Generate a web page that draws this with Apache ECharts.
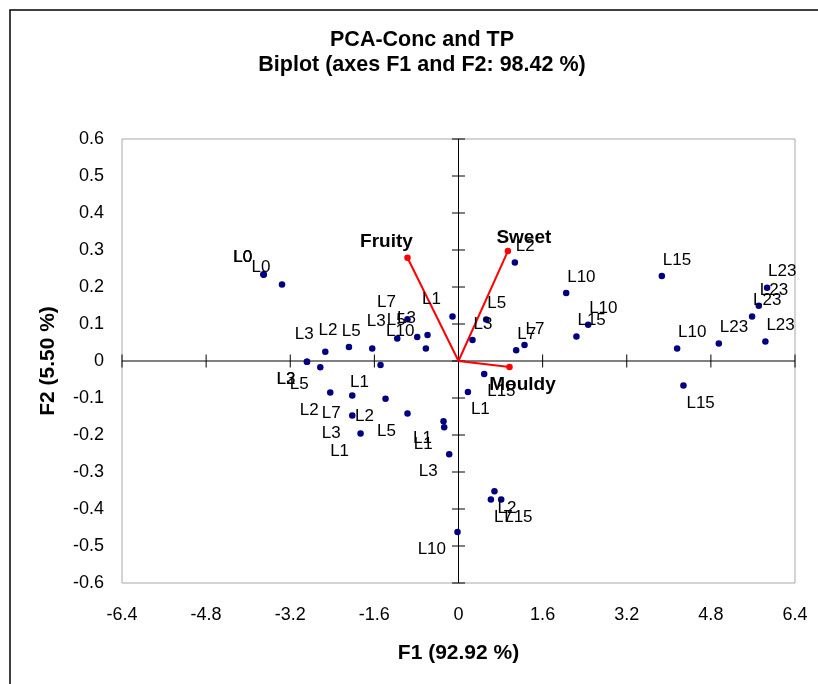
<!DOCTYPE html>
<html>
<head>
<meta charset="utf-8">
<title>PCA-Conc and TP</title>
<script src="https://cdn.jsdelivr.net/npm/echarts@6/dist/echarts.min.js"></script>
<style>
  html, body { margin: 0; padding: 0; background: #fff; }
  #chart { width: 818px; height: 684px; }
</style>
</head>
<body>
<div id="chart"></div>
<script>
// Observation scores on the first two principal axes
const obsNames = [
  'L0', 'L0', 'L0', 'L0', 'L1', 'L7', 'L3', 'L5', 'L3', 'L10', 'L5', 'L2', 'L3',
  'L2', 'L3', 'L5', 'L1', 'L2', 'L7', 'L2', 'L3', 'L5', 'L1', 'L1', 'L1', 'L3',
  'L1', 'L15', 'L3', 'L5', 'L7', 'L7', 'L2', 'L10', 'L15', 'L10', 'L15',
  'L23', 'L23', 'L23', 'L23', 'L23', 'L10', 'L15', 'L2', 'L7', 'L15', 'L10'
];
const obsF1 = [
  -3.707, -3.707, -3.707, -3.357, -0.114, -0.970, -1.165, -0.785, -0.589, -0.620, -1.641, -2.084, -2.534,
  -2.882, -2.882, -2.629, -1.483, -2.439, -2.021, -1.388, -2.021, -0.970, -1.863, -0.285, -0.272, -0.177,
  0.179, 0.489, 0.266, 0.527, 1.097, 1.255, 1.072, 2.048, 2.243, 2.466, 3.867,
  5.869, 5.711, 5.584, 5.837, 4.951, 4.158, 4.278, 0.684, 0.616, 0.812, -0.019
];
const obsF2 = [
  0.234, 0.234, 0.234, 0.207, 0.120, 0.113, 0.061, 0.065, 0.070, 0.034, 0.034, 0.038, 0.025,
  -0.002, -0.002, -0.017, -0.011, -0.085, -0.093, -0.102, -0.147, -0.142, -0.196, -0.163, -0.179, -0.252,
  -0.084, -0.035, 0.057, 0.112, 0.029, 0.043, 0.266, 0.184, 0.066, 0.098, 0.230,
  0.198, 0.149, 0.120, 0.053, 0.047, 0.034, -0.066, -0.352, -0.374, -0.374, -0.462
];

// Variable loadings (drawn as vectors from the origin)
const varNames = ['Fruity', 'Sweet', 'Mouldy'];
const varF1 = [-0.970, 0.939, 0.970];
const varF2 = [0.279, 0.297, -0.016];

// Axis tick labels
const xTickLabels = ['-6.4', '-4.8', '-3.2', '-1.6', '0', '1.6', '3.2', '4.8', '6.4'];
const yTickLabels = ['-0.6', '-0.5', '-0.4', '-0.3', '-0.2', '-0.1', '0', '0.1', '0.2', '0.3', '0.4', '0.5', '0.6'];

const FONT = '"Liberation Sans", Arial, Helvetica, sans-serif';
const xTicks = xTickLabels.map(Number);
const yTicks = yTickLabels.map(Number);
const xMin = xTicks[0], xMax = xTicks[xTicks.length - 1], xStep = xTicks[1] - xTicks[0];
const yMin = yTicks[0], yMax = yTicks[yTicks.length - 1], yStep = yTicks[1] - yTicks[0];

function tickText(labels, min, step) {
  return function (v) {
    const i = Math.round((v - min) / step);
    return labels[i] !== undefined ? labels[i] : '';
  };
}

// Observation labels sit in the corner facing away from the origin
function obsLabel(x, y) {
  const right = x >= 0, up = y >= 0;
  return {
    show: true,
    position: ['50%', '50%'],
    align: right ? 'left' : 'right',
    verticalAlign: 'middle',
    offset: [right ? (up ? 1 : 3) : -11.5, up ? (right ? -16 : -17) : 17.5],
    formatter: '{b}',
    color: '#000',
    opacity: 1,
    fontSize: 17,
    fontFamily: FONT
  };
}

const varLabelOffset = { Fruity: [-21, -16.5], Sweet: [16, -13.5], Mouldy: [13, 18] };

const obsData = obsNames.map((n, i) => ({
  name: n,
  value: [obsF1[i], obsF2[i]],
  label: obsLabel(obsF1[i], obsF2[i])
}));

const varData = varNames.map((n, i) => ({
  name: n,
  value: [varF1[i], varF2[i]],
  label: {
    show: true,
    position: ['50%', '50%'],
    align: 'center',
    verticalAlign: 'middle',
    offset: varLabelOffset[n],
    formatter: '{b}',
    color: '#000',
    opacity: 1,
    fontSize: 19,
    fontWeight: 'bold',
    fontFamily: FONT
  }
}));

// Axis line through the origin with ticks crossing it
function crossAxis(horizontal) {
  return function (params, api) {
    const v = api.value(0);
    const p = horizontal ? api.coord([v, 0]) : api.coord([0, v]);
    const children = [];
    if (horizontal) {
      children.push({ type: 'line', shape: { x1: p[0], y1: p[1] - 6.5, x2: p[0], y2: p[1] + 6.5 },
        style: { stroke: '#000', lineWidth: 1 } });
      if (params.dataIndex === 0) {
        const a = api.coord([xMin, 0]), b = api.coord([xMax, 0]);
        children.push({ type: 'line', shape: { x1: a[0], y1: a[1], x2: b[0], y2: b[1] },
          style: { stroke: '#000', lineWidth: 1 } });
      }
    } else {
      children.push({ type: 'line', shape: { x1: p[0] - 6.5, y1: p[1], x2: p[0] + 6.5, y2: p[1] },
        style: { stroke: '#000', lineWidth: 1 } });
      if (params.dataIndex === 0) {
        const a = api.coord([0, yMin]), b = api.coord([0, yMax]);
        children.push({ type: 'line', shape: { x1: a[0], y1: a[1], x2: b[0], y2: b[1] },
          style: { stroke: '#000', lineWidth: 1 } });
      }
    }
    return { type: 'group', children: children };
  };
}

const chart = echarts.init(document.getElementById('chart'), null, { renderer: 'canvas' });

chart.setOption({
  backgroundColor: '#fff',
  animation: false,
  textStyle: { fontFamily: FONT, color: '#000' },
  graphic: [
    { type: 'rect', shape: { x: 10, y: 10, width: 900, height: 900 },
      style: { fill: 'none', stroke: '#000', lineWidth: 1.5 }, silent: true },
    { type: 'text', x: 422, y: 40,
      style: { text: 'PCA-Conc and TP', fontSize: 21.5, fontWeight: 'bold', fontFamily: FONT,
        fill: '#000', align: 'center', verticalAlign: 'middle' } },
    { type: 'text', x: 422, y: 65,
      style: { text: 'Biplot (axes F1 and F2: 98.42 %)', fontSize: 21.5, fontWeight: 'bold', fontFamily: FONT,
        fill: '#000', align: 'center', verticalAlign: 'middle' } }
  ],
  grid: {
    left: 122, top: 139, right: 23, bottom: 101,
    show: true, borderColor: '#a8a8a8', borderWidth: 1, backgroundColor: 'transparent'
  },
  xAxis: {
    type: 'value', min: xMin, max: xMax, interval: xStep,
    name: 'F1 (92.92 %)', nameLocation: 'middle', nameGap: 60,
    nameTextStyle: { fontSize: 21, fontWeight: 'bold', color: '#000', fontFamily: FONT },
    axisLine: { show: false, onZero: false },
    axisTick: { show: false },
    splitLine: { show: false },
    axisLabel: { margin: 23, fontSize: 18, color: '#000', fontFamily: FONT,
      formatter: tickText(xTickLabels, xMin, xStep) }
  },
  yAxis: {
    type: 'value', min: yMin, max: yMax, interval: yStep,
    name: 'F2 (5.50 %)', nameLocation: 'middle', nameGap: 63,
    nameTextStyle: { fontSize: 21, fontWeight: 'bold', color: '#000', fontFamily: FONT },
    axisLine: { show: false, onZero: false },
    axisTick: { show: false },
    splitLine: { show: false },
    axisLabel: { margin: 18, fontSize: 18, color: '#000', fontFamily: FONT,
      formatter: tickText(yTickLabels, yMin, yStep) }
  },
  series: [
    {
      name: 'F1 axis', type: 'custom', silent: true, z: 1,
      data: xTicks.map(v => [v]),
      renderItem: crossAxis(true)
    },
    {
      name: 'F2 axis', type: 'custom', silent: true, z: 1,
      data: yTicks.map(v => [v]),
      renderItem: crossAxis(false)
    },
    {
      name: 'Variable vectors', type: 'custom', silent: true, z: 2,
      data: varNames.map((n, i) => [varF1[i], varF2[i]]),
      renderItem: function (params, api) {
        const o = api.coord([0, 0]);
        const p = api.coord([api.value(0), api.value(1)]);
        return { type: 'line', shape: { x1: o[0], y1: o[1], x2: p[0], y2: p[1] },
          style: { stroke: '#ff0000', lineWidth: 2 } };
      }
    },
    {
      name: 'Variables', type: 'scatter', z: 3,
      symbol: 'circle', symbolSize: 6.5,
      itemStyle: { color: '#ff0000', opacity: 1 },
      data: varData
    },
    {
      name: 'Observations', type: 'scatter', z: 4,
      symbol: 'circle', symbolSize: 6.5,
      itemStyle: { color: '#000080', opacity: 1 },
      data: obsData
    }
  ]
});
</script>
</body>
</html>
